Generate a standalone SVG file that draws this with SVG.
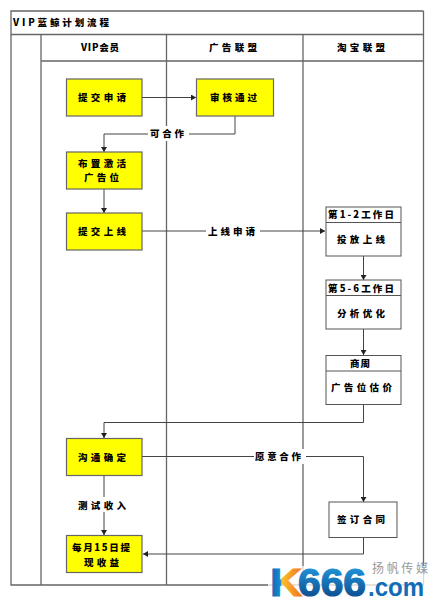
<svg xmlns="http://www.w3.org/2000/svg" width="440" height="605" viewBox="0 0 440 605">
<style>
.t{font-family:"Noto Sans CJK SC","Liberation Sans",sans-serif;font-weight:900;font-size:9.5px;fill:#000;text-anchor:start}
.g{stroke:#666;stroke-width:1.3;fill:none}
.f{fill:none;stroke:#555;stroke-width:1}
.c{fill:none;stroke:#444;stroke-width:1}
.y{fill:#ff0;stroke:#666;stroke-width:1.2}
.w{fill:#fff;stroke:#555;stroke-width:1}
</style>
<defs>
<marker id="a" markerUnits="userSpaceOnUse" markerWidth="6" markerHeight="6" refX="5" refY="3" orient="auto"><path d="M0 0L5 3L0 6Z" fill="#222"/></marker>
<linearGradient id="k" x1="0" x2="1" y1="0" y2="0"><stop offset="0" stop-color="#0f62ad"/><stop offset="0.32" stop-color="#1a8ad4"/><stop offset="0.36" stop-color="#fbc02d"/><stop offset="1" stop-color="#f0701a"/></linearGradient>
<linearGradient id="s" x1="0" x2="0" y1="0" y2="1"><stop offset="0" stop-color="#22a0e6"/><stop offset="1" stop-color="#0a3f80"/></linearGradient>
</defs>
<rect width="440" height="605" fill="#fff"/>
<g id="frame">
<path class="g" d="M423.500 11H11V585H423.500V11M11 34.500H423.500M41 34.500V585M166.500 34.500V585M303 34.500V585M41 61H423.500"/>
</g>
<g id="headers">
<text class="t" x="13" y="26" textLength="96">VIP蓝鲸计划流程</text>
<text class="t" x="81" y="51" textLength="38">VIP会员</text>
<text class="t" x="209" y="51" textLength="48">广告联盟</text>
<text class="t" x="337" y="51" textLength="48">淘宝联盟</text>
</g>
<g id="connectors">
<path class="c" marker-end="url(#a)" d="M142 97.500H196"/>
<path class="c" marker-end="url(#a)" d="M235 116V134H104V152"/>
<path class="c" marker-end="url(#a)" d="M104 189V213"/>
<path class="c" marker-end="url(#a)" d="M142 231H325"/>
<path class="c" marker-end="url(#a)" d="M363.500 256V280"/>
<path class="c" marker-end="url(#a)" d="M363.500 329V355"/>
<path class="c" marker-end="url(#a)" d="M363.500 404V422.500H104V438"/>
<path class="c" marker-end="url(#a)" d="M142 456.500H363.500V502"/>
<path class="c" marker-end="url(#a)" d="M104 475V535"/>
<path class="c" marker-end="url(#a)" d="M363.500 537.500V554H143"/>
</g>
<g id="edge-labels">
<rect x="148" y="126" width="41" height="15" fill="#fff"/><text class="t" x="150" y="137" textLength="34">可合作</text>
<rect x="206" y="224" width="54" height="15" fill="#fff"/><text class="t" x="208" y="235" textLength="47">上线申请</text>
<rect x="254" y="449" width="52" height="15" fill="#fff"/><text class="t" x="255" y="460" textLength="46">愿意合作</text>
<rect x="76" y="497" width="52" height="15" fill="#fff"/><text class="t" x="78" y="509" textLength="48">测试收入</text>
</g>
<g id="n1"><rect class="y" x="66.500" y="79" width="75.500" height="37"/><text class="t" x="78" y="101" textLength="48">提交申请</text></g>
<g id="n2"><rect class="y" x="196.500" y="79" width="77" height="37"/><text class="t" x="210" y="101" textLength="47">审核通过</text></g>
<g id="n3"><rect class="y" x="66.500" y="152" width="75.500" height="37"/><text class="t" x="78" y="167" textLength="48">布置激活</text><text class="t" x="84" y="181" textLength="35">广告位</text></g>
<g id="n4"><rect class="y" x="66.500" y="213" width="75.500" height="37"/><text class="t" x="78" y="235" textLength="48">提交上线</text></g>
<g id="n5"><rect class="w" x="326" y="207" width="75" height="49"/><path class="f" d="M326 222.500H401"/><text class="t" x="328" y="218" textLength="66">第1-2工作日</text><text class="t" x="337" y="243" textLength="48">投放上线</text></g>
<g id="n6"><rect class="w" x="326" y="280" width="75" height="49"/><path class="f" d="M326 295.500H401"/><text class="t" x="328" y="291.500" textLength="66">第5-6工作日</text><text class="t" x="337" y="316.500" textLength="48">分析优化</text></g>
<g id="n7"><rect class="w" x="326" y="355.500" width="75" height="49"/><path class="f" d="M326 371H401"/><text class="t" x="350" y="367" textLength="20">商周</text><text class="t" x="331" y="391" textLength="61">广告位估价</text></g>
<g id="n8"><rect class="y" x="66.500" y="438.500" width="75.500" height="37"/><text class="t" x="78" y="461" textLength="48">沟通确定</text></g>
<g id="n9"><rect class="y" x="66.500" y="535.500" width="75.500" height="37"/><text class="t" x="72" y="551" textLength="58">每月15日提</text><text class="t" x="84" y="566" textLength="35">现收益</text></g>
<g id="n10"><rect class="w" x="329" y="502" width="68" height="35.500"/><text class="t" x="337" y="523" textLength="48">签订合同</text></g>
<g id="logo">
<rect x="268" y="566" width="158" height="31" fill="#fff" opacity="0.75"/>
<text x="270" y="596" font-family="Liberation Sans,sans-serif" font-weight="700" font-size="38" textLength="32" lengthAdjust="spacingAndGlyphs" fill="url(#k)" stroke="url(#k)" stroke-width="1">K</text>
<text x="298" y="596" font-family="Liberation Sans,sans-serif" font-weight="700" font-size="38" textLength="68" lengthAdjust="spacingAndGlyphs" fill="url(#s)" stroke="url(#s)" stroke-width="1.200">666</text>
<text x="368" y="596" font-family="Liberation Sans,sans-serif" font-weight="700" font-size="26" textLength="56" lengthAdjust="spacingAndGlyphs" fill="#0f6cb5">.com</text>
<text x="372" y="573" font-family="Noto Sans CJK SC,sans-serif" font-size="12" textLength="56" fill="#999">扬帆传媒</text>
</g>
</svg>
